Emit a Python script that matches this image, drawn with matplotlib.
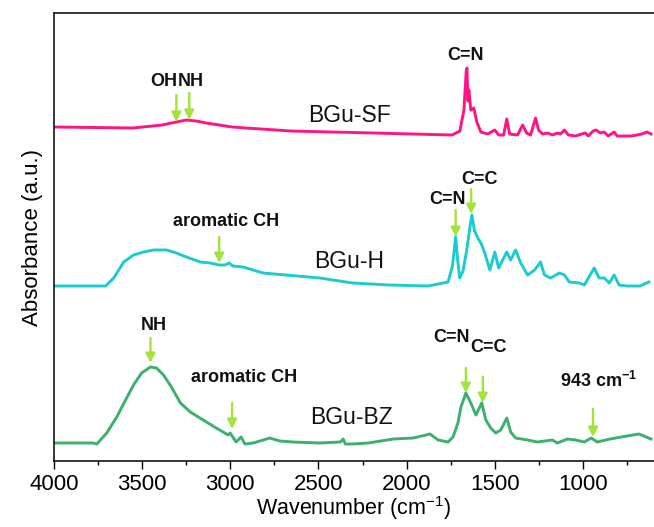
import matplotlib
matplotlib.use("Agg")
import matplotlib.pyplot as plt

plt.rcParams['font.family'] = ['Liberation Sans', 'DejaVu Sans']
plt.rcParams['mathtext.fontset'] = 'custom'
plt.rcParams['mathtext.rm'] = 'Liberation Sans'
plt.rcParams['mathtext.bf'] = 'Liberation Sans:bold'

# ---------------- data (wavenumber, absorbance a.u. incl. vertical offset) ----------
sf_wn = [4000, 3554, 3385, 3334, 3306, 3249, 3193, 3137, 3063, 2990, 2911, 2657, 2189,
         1743, 1698, 1675, 1662, 1658, 1652, 1647, 1636, 1619, 1602, 1579, 1540, 1500,
         1478, 1450, 1432, 1416, 1371, 1342, 1320, 1297, 1269, 1252, 1229, 1201, 1173,
         1145, 1128, 1105, 1083, 1043, 987, 970, 942, 925, 902, 880, 857, 823, 806,
         722, 666, 637, 614]
sf_ab = [3.34, 3.33, 3.36, 3.38, 3.39, 3.41, 3.40, 3.38, 3.36, 3.34, 3.33, 3.30, 3.28,
         3.26, 3.30, 3.51, 3.90, 3.93, 3.60, 3.71, 3.51, 3.53, 3.39, 3.29, 3.27, 3.31,
         3.26, 3.26, 3.42, 3.27, 3.26, 3.36, 3.28, 3.26, 3.43, 3.31, 3.27, 3.28, 3.26,
         3.28, 3.27, 3.31, 3.26, 3.25, 3.28, 3.25, 3.30, 3.31, 3.28, 3.29, 3.25, 3.29, 3.25,
         3.25, 3.27, 3.29, 3.27]

h_wn = [4000, 3707, 3661, 3605, 3549, 3492, 3436, 3362, 3306, 3249, 3170, 3114, 3063,
        3030, 3007, 2985, 2928, 2871, 2815, 2685, 2493, 2307, 2100, 1878, 1765, 1740,
        1722, 1710, 1699, 1680, 1660, 1640, 1630, 1615, 1596, 1579, 1557, 1528, 1500,
        1478, 1432, 1410, 1382, 1353, 1314, 1274, 1241, 1218, 1184, 1133, 1105, 1077,
        1020, 992, 936, 908, 879, 851, 823, 795, 750, 677, 626]
h_ab = [1.75, 1.75, 1.83, 1.99, 2.06, 2.09, 2.11, 2.11, 2.08, 2.04, 1.99, 1.98, 1.96,
        1.96, 1.98, 1.95, 1.94, 1.91, 1.88, 1.86, 1.83, 1.78, 1.76, 1.75, 1.79, 1.95,
        2.24, 2.00, 1.83, 1.90, 2.10, 2.35, 2.46, 2.30, 2.23, 2.18, 2.08, 1.91, 2.09,
        1.93, 2.09, 2.01, 2.11, 1.98, 1.86, 1.91, 1.99, 1.86, 1.83, 1.88, 1.86, 1.79,
        1.78, 1.76, 1.93, 1.83, 1.83, 1.78, 1.86, 1.76, 1.75, 1.75, 1.79]

bz_wn = [4000, 3780, 3757, 3701, 3644, 3594, 3549, 3503, 3453, 3419, 3379, 3334, 3283,
         3227, 3154, 3080, 3012, 3001, 2967, 2939, 2917, 2871, 2832, 2776, 2719, 2646,
         2493, 2375, 2360, 2347, 2307, 2217, 2076, 1963, 1890, 1867, 1822, 1765, 1737,
         1709, 1692, 1664, 1636, 1607, 1574, 1551, 1523, 1495, 1466, 1432, 1410, 1382,
         1314, 1258, 1173, 1145, 1088, 1043, 992, 953, 919, 846, 750, 682, 614]
bz_ab = [0.18, 0.18, 0.17, 0.28, 0.44, 0.61, 0.76, 0.88, 0.94, 0.93, 0.86, 0.74, 0.58,
         0.49, 0.41, 0.33, 0.26, 0.28, 0.19, 0.24, 0.17, 0.18, 0.20, 0.23, 0.20, 0.19,
         0.18, 0.19, 0.22, 0.17, 0.17, 0.18, 0.22, 0.23, 0.26, 0.27, 0.21, 0.19, 0.24,
         0.38, 0.54, 0.68, 0.58, 0.46, 0.58, 0.41, 0.33, 0.28, 0.31, 0.43, 0.29, 0.23,
         0.21, 0.19, 0.21, 0.18, 0.22, 0.21, 0.19, 0.23, 0.19, 0.22, 0.25, 0.27, 0.22]

sample_names = ['BGu-SF', 'BGu-H', 'BGu-BZ']
sample_label_pos = [(2324, 3.46), (2324, 1.99), (2313, 0.43)]

# band annotations: (text, text_wn, text_y, arrow_wn, arrow_tail_y, arrow_tip_y)
bands = [
    ('OH', 3375, 3.79, 3306, 3.66, 3.39),
    ('NH', 3222, 3.79, 3233, 3.68, 3.41),
    ('C=N', 1667, 4.05, None, None, None),
    ('aromatic CH', 3024, 2.39, 3063, 2.24, 1.98),
    ('C=N', 1768, 2.62, 1722, 2.51, 2.24),
    ('C=C', 1587, 2.82, 1634, 2.72, 2.47),
    ('NH', 3436, 1.36, 3453, 1.23, 0.98),
    ('aromatic CH', 2922, 0.83, 2990, 0.58, 0.32),
    ('C=N', 1748, 1.24, 1664, 0.93, 0.68),
    ('C=C', 1535, 1.13, 1568, 0.84, 0.58),
    (r'943 cm$^{\mathbf{-1}}$', 910, 0.80, 943, 0.52, 0.24),
]

x_ticks = [4000, 3500, 3000, 2500, 2000, 1500, 1000]

# ---------------- figure ----------------
fig = plt.figure(figsize=(6.54, 5.27), dpi=100)
ax = fig.add_axes([54 / 654, 66 / 527, 600 / 654, 448 / 527])

colors = ['#ff1486', '#1ccbcf', '#3cb06c']
for wn, ab, c in zip([sf_wn, h_wn, bz_wn], [sf_ab, h_ab, bz_ab], colors):
    ax.plot(wn, ab, color=c, lw=2.1, solid_joinstyle='round')

for name, (xw, yv) in zip(sample_names, sample_label_pos):
    ax.text(xw, yv, name, fontsize=16.5, ha='center', va='center', color='#111111')

arrow_color = '#a2e33c'
for txt, tx, ty, axw, y0, y1 in bands:
    ax.text(tx, ty, txt, fontsize=13, fontweight='bold', ha='center', va='center',
            color='#111111')
    if axw is not None:
        ax.annotate('', xy=(axw, y1), xytext=(axw, y0),
                    arrowprops=dict(arrowstyle='-|>', color=arrow_color, lw=1.7,
                                    mutation_scale=14, shrinkA=0, shrinkB=0))

ax.set_xlim(4000, 597)
ax.set_ylim(0, 4.48)
ax.set_xticks(x_ticks)
ax.set_xticks(range(3750, 600, -500), minor=True)
ax.tick_params(axis='x', which='major', direction='out', length=6, width=1.0,
               labelsize=16, pad=3)
ax.tick_params(axis='x', which='minor', direction='out', length=3, width=1.0)
ax.set_yticks([])
for s in ['left', 'bottom', 'top']:
    ax.spines[s].set_linewidth(1.1)
ax.spines['right'].set_visible(False)

ax.set_xlabel('Wavenumber (cm$^{-1}$)', fontsize=15.5, labelpad=0)
ax.set_ylabel('Absorbance (a.u.)', fontsize=16, labelpad=8)

fig.savefig('out.png', dpi=100)
